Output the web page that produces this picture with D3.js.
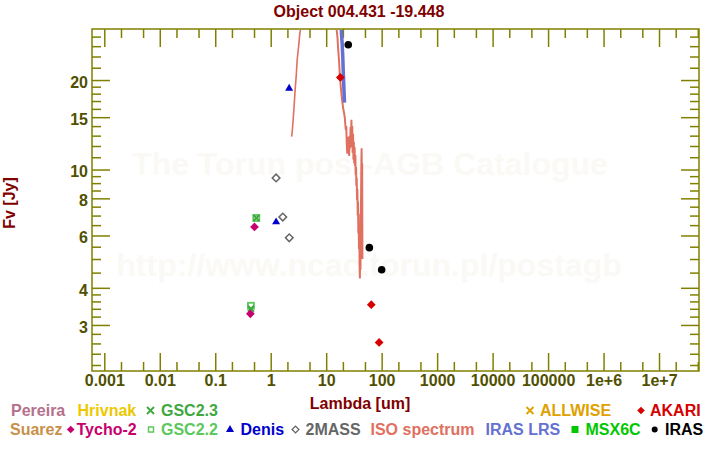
<!DOCTYPE html>
<html><head><meta charset="utf-8">
<script src="https://cdn.jsdelivr.net/npm/d3@7"></script>
<style>
body{margin:0;background:#fff}
svg{display:block;font-family:"Liberation Sans",Arial,sans-serif;font-weight:bold}
</style>
</head><body><svg id="c" width="720" height="450"></svg>
<script>
// ---------------- data ----------------
const title = "Object 004.431 -19.448";
const xLabel = "Lambda [um]";
const yLabel = "Fv [Jy]";
const xTickValues = [1e-3,1e-2,1e-1,1,10,100,1e3,1e4,1e5,1e6,1e7];
const xTickLabels = ["0.001","0.01","0.1","1","10","100","1000","10000","100000","1e+6","1e+7"];
const yTickValues = [3,4,6,8,10,15,20];
const yTickLabels = ["3","4","6","8","10","15","20"];
const yMinorTicks = [2.2,2.4,2.6,2.8,3.2,3.4,3.6,3.8,4.5,5,5.5,6.5,7,7.5,8.5,9,9.5,11,12,13,14,16,17,18,19,22,24,26,28];
const watermark1 = "The Torun post-AGB Catalogue";
const watermark2 = "http://www.ncac.torun.pl/postagb";

const irasWl = [25, 60, 100];
const irasFlux = [26.3, 5.46, 4.6];
const akariWl = [18, 65, 90];
const akariFlux = [20.4, 3.51, 2.62];
const denisWl = [1.25, 2.15];
const denisFlux = [6.68, 18.8];
const twomassWl = [1.25, 1.65, 2.16];
const twomassFlux = [9.37, 6.92, 5.89];
const tychoWl = [0.43, 0.51];
const tychoFlux = [3.27, 6.41];
const gsc22Wl = [0.44, 0.55];
const gsc22Flux = [3.48, 6.87];
const gsc23Wl = [0.44, 0.55];
const gsc23Flux = [3.40, 6.87];

// ISO spectrum (two pieces)
const isoShortWl = [2.38,2.44,2.54,2.65,2.76,2.88,3.00,3.18,3.36,3.46,3.6];
const isoShortFlux = [12.9,13.4,14.7,16.5,18.6,20.6,23.4,25.9,28.8,29.7,33];
const isoLongWl = [14.8,15.4,16.0,16.4,17.1,17.6,18.4,19.2,20.2,21.0,21.7,22.1,22.6,23.0,23.5,24.0,24.5,25.0,25.5,26.0,26.5,27.0,27.5,28.0,28.5,29.0,29.5,30.0,30.5,31.0,31.5,32.0,32.5,33.0,33.5,34.0,34.5,35.0,35.5,36.0,36.5,37.0,37.5,38.0,38.5,39.0,39.5,40.0,40.5,41.0,41.5,42.0,42.5,43.0,43.5,44.0,44.5,45.0];
const isoLongFlux = [33,29.7,27.7,25.6,23.1,20.8,18.8,17.4,16.1,15.5,14.9,14.2,13.6,14.0,12.2,11.3,12.9,11.4,12.6,11.1,13.0,11.8,13.9,12.1,14.7,11.9,14.0,11.4,13.2,10.8,12.4,10.5,11.9,10.3,11.2,9.6,10.2,8.8,9.4,7.9,8.6,7.0,7.8,6.1,7.1,5.4,6.4,4.8,4.3,5.6,4.6,6.4,8.0,10.2,11.8,8.4,10.5,5.0];
// IRAS LRS
const lrsWl = [17.8,18.5,18.9,19.4,19.9,20.3,20.7,21.1,21.4];
const lrsFlux = [36,31,28.5,26.5,24,21.5,19.5,17.8,16.8];

// legend
const legendRow1 = [
  {name:"Pereira", color:"#b5708c", sym:null},
  {name:"Hrivnak", color:"#ecc800", sym:null},
  {name:"GSC2.3", color:"#3fa83f", sym:"x"},
  {name:"ALLWISE", color:"#e0a000", sym:"x"},
  {name:"AKARI", color:"#d60000", sym:"diamond"}
];
const legendRow2 = [
  {name:"Suarez", color:"#c8904a", sym:null},
  {name:"Tycho-2", color:"#c8006e", sym:"diamond"},
  {name:"GSC2.2", color:"#5cc85c", sym:"square-open"},
  {name:"Denis", color:"#0000cc", sym:"triangle"},
  {name:"2MASS", color:"#666666", sym:"diamond-open"},
  {name:"ISO spectrum", color:"#e07060", sym:null},
  {name:"IRAS LRS", color:"#6470d2", sym:null},
  {name:"MSX6C", color:"#00c800", sym:"square"},
  {name:"IRAS", color:"#000000", sym:"circle"}
];

// ---------------- layout ----------------
const W = 720, H = 450;
const L = 92, R = 699, T = 29, B = 371;
const olive = "#808000", labelCol = "#505000", titleCol = "#800000";
const row1X = [{m:null,t:11},{m:null,t:77.5},{m:150.5,t:161},{m:530,t:540},{m:641,t:650}];
const row2X = [{m:null,t:10},{m:70.7,t:76.5},{m:151,t:161},{m:230,t:240.5},{m:295.5,t:305.5},{m:null,t:370.5},{m:null,t:485.5},{m:575,t:585.5},{m:654.7,t:665}];

const svg = d3.select("#c");
svg.append("rect").attr("width",W).attr("height",H).attr("fill","#fff");

const x = d3.scaleLog().domain([Math.pow(10,-3.2216), Math.pow(10,7.7207)]).range([L,R]);
const y = d3.scaleLog().domain([2.10, 29.7]).range([B,T]);

// watermark
svg.append("text").attr("x",370).attr("y",175).attr("text-anchor","middle")
  .attr("font-size",32).attr("fill","#fbf9f5").text(watermark1);
svg.append("text").attr("x",369).attr("y",276).attr("text-anchor","middle")
  .attr("font-size",32).attr("fill","#fbf9f5").text(watermark2);

// minor x ticks (2 and 5 of each decade)
const xMinor = [];
for (let e=-4;e<=7;e++){ [2,5].forEach(m=>{ const v=m*Math.pow(10,e); if (v>=x.domain()[0] && v<=x.domain()[1]) xMinor.push(v);}); }

function styleAxis(g){
  g.select(".domain").remove();
  g.selectAll(".tick line").attr("stroke",olive).attr("stroke-width",1.5);
  g.selectAll(".tick text").attr("fill",labelCol).attr("font-size",16).attr("font-weight","bold")
   .attr("font-family",'"Liberation Sans",Arial,sans-serif');
}
// bottom
svg.append("g").attr("transform",`translate(0,${B})`)
  .call(d3.axisBottom(x).tickValues(xTickValues).tickSize(-18).tickPadding(4)
    .tickFormat((d,i)=>xTickLabels[i])).call(styleAxis);
svg.append("g").attr("transform",`translate(0,${B})`)
  .call(d3.axisBottom(x).tickValues(xMinor).tickSize(-9).tickFormat("")).call(styleAxis);
// top
svg.append("g").attr("transform",`translate(0,${T})`)
  .call(d3.axisTop(x).tickValues(xTickValues).tickSize(-18).tickFormat("")).call(styleAxis);
svg.append("g").attr("transform",`translate(0,${T})`)
  .call(d3.axisTop(x).tickValues(xMinor).tickSize(-9).tickFormat("")).call(styleAxis);
// left
const gl = svg.append("g").attr("transform",`translate(${L},0)`)
  .call(d3.axisLeft(y).tickValues(yTickValues).tickSize(-18).tickPadding(4)
    .tickFormat((d,i)=>yTickLabels[i])).call(styleAxis);
gl.selectAll(".tick text").attr("dy","0.45em");
svg.append("g").attr("transform",`translate(${L},0)`)
  .call(d3.axisLeft(y).tickValues(yMinorTicks).tickSize(-9).tickFormat("")).call(styleAxis);
// right
svg.append("g").attr("transform",`translate(${R},0)`)
  .call(d3.axisRight(y).tickValues(yTickValues).tickSize(-18).tickFormat("")).call(styleAxis);
svg.append("g").attr("transform",`translate(${R},0)`)
  .call(d3.axisRight(y).tickValues(yMinorTicks).tickSize(-9).tickFormat("")).call(styleAxis);

// frame
svg.append("rect").attr("x",L).attr("y",T).attr("width",R-L).attr("height",B-T)
  .attr("fill","none").attr("stroke",olive).attr("stroke-width",1.5);

// clip
svg.append("clipPath").attr("id","clip").append("rect").attr("x",L).attr("y",T+1).attr("width",R-L).attr("height",B-T-1);
const plot = svg.append("g").attr("clip-path","url(#clip)");

const line = d3.line().x(d=>x(d[0])).y(d=>y(d[1]));
plot.append("path").datum(d3.zip(isoShortWl, isoShortFlux)).attr("d",line)
  .attr("fill","none").attr("stroke","#e07060").attr("stroke-width",1.6);
plot.append("path").datum(d3.zip(isoLongWl, isoLongFlux)).attr("d",line)
  .attr("fill","none").attr("stroke","#e07060").attr("stroke-width",2);
plot.append("path").datum(d3.zip(lrsWl, lrsFlux)).attr("d",line)
  .attr("fill","none").attr("stroke","#6470d2").attr("stroke-width",3.5);

function drawSym(g, type, cx, cy, color){
  if (type==="circle") g.append("circle").attr("cx",cx).attr("cy",cy).attr("r",3.8).attr("fill",color);
  else if (type==="diamond") g.append("rect").attr("x",-3.1).attr("y",-3.1).attr("width",6.2).attr("height",6.2)
      .attr("transform",`translate(${cx},${cy}) rotate(45)`).attr("fill",color);
  else if (type==="diamond-open") g.append("rect").attr("x",-2.7).attr("y",-2.7).attr("width",5.4).attr("height",5.4)
      .attr("transform",`translate(${cx},${cy}) rotate(45)`).attr("fill","none").attr("stroke",color).attr("stroke-width",1.5);
  else if (type==="triangle") g.append("path").attr("d",`M0,-4.2L4,2.6L-4,2.6Z`)
      .attr("transform",`translate(${cx},${cy})`).attr("fill",color);
  else if (type==="square-open") g.append("rect").attr("x",cx-3).attr("y",cy-3).attr("width",6).attr("height",6)
      .attr("fill","none").attr("stroke",color).attr("stroke-width",1.8);
  else if (type==="square") g.append("rect").attr("x",cx-3.5).attr("y",cy-3.5).attr("width",7).attr("height",7).attr("fill",color);
  else if (type==="x") g.append("path").attr("d",`M-3,-3L3,3M-3,3L3,-3`).attr("transform",`translate(${cx},${cy})`)
      .attr("stroke",color).attr("stroke-width",2).attr("fill","none");
}
function drawPts(wl, fl, type, color){
  wl.forEach((w,i)=>drawSym(plot, type, x(w), y(fl[i]), color));
}
drawPts(gsc22Wl, gsc22Flux, "square-open", "#5cc85c");
drawPts(gsc23Wl, gsc23Flux, "x", "#3fa83f");
drawPts(tychoWl, tychoFlux, "diamond", "#c8006e");
drawPts(twomassWl, twomassFlux, "diamond-open", "#666666");
drawPts(denisWl, denisFlux, "triangle", "#0000cc");
drawPts(akariWl, akariFlux, "diamond", "#d60000");
drawPts(irasWl, irasFlux, "circle", "#000000");

// titles
svg.append("text").attr("x",359).attr("y",17).attr("text-anchor","middle").attr("font-size",16)
  .attr("fill",titleCol).text(title);
svg.append("text").attr("x",360).attr("y",409).attr("text-anchor","middle").attr("font-size",16)
  .attr("fill",titleCol).text(xLabel);
svg.append("text").attr("transform","translate(15,203) rotate(-90)").attr("text-anchor","middle").attr("font-size",16)
  .attr("fill",titleCol).text(yLabel);

// legend
function drawLegend(items, pos, yb){
  items.forEach((it,i)=>{
    if (it.sym && pos[i].m!=null){
      const g = svg.append("g");
      const m = pos[i].m;
      if (it.sym==="circle") g.append("circle").attr("cx",m).attr("cy",yb-5.5).attr("r",3).attr("fill",it.color);
      else if (it.sym==="square") g.append("rect").attr("x",m-3.5).attr("y",yb-9).attr("width",7).attr("height",7).attr("fill",it.color);
      else if (it.sym==="diamond") g.append("rect").attr("x",-2.7).attr("y",-2.7).attr("width",5.4).attr("height",5.4)
          .attr("transform",`translate(${m},${yb-5.5}) rotate(45)`).attr("fill",it.color);
      else if (it.sym==="diamond-open") g.append("rect").attr("x",-2.4).attr("y",-2.4).attr("width",4.8).attr("height",4.8)
          .attr("transform",`translate(${m},${yb-5.5}) rotate(45)`).attr("fill","none").attr("stroke",it.color).attr("stroke-width",1.3);
      else if (it.sym==="square-open") g.append("rect").attr("x",m-2.5).attr("y",yb-8).attr("width",5).attr("height",5)
          .attr("fill","none").attr("stroke",it.color).attr("stroke-width",1.5);
      else if (it.sym==="triangle") g.append("path").attr("d",`M${m},${yb-10}L${m+4},${yb-3}L${m-4},${yb-3}Z`).attr("fill",it.color);
      else if (it.sym==="x") g.append("path").attr("d",`M${m-3.5},${yb-9}L${m+3.5},${yb-2}M${m-3.5},${yb-2}L${m+3.5},${yb-9}`)
          .attr("stroke",it.color).attr("stroke-width",1.8);
    }
    svg.append("text").attr("x",pos[i].t).attr("y",yb).attr("font-size",16).attr("fill",it.color).text(it.name);
  });
}
drawLegend(legendRow1, row1X, 416);
drawLegend(legendRow2, row2X, 435);
</script>
</body></html>
